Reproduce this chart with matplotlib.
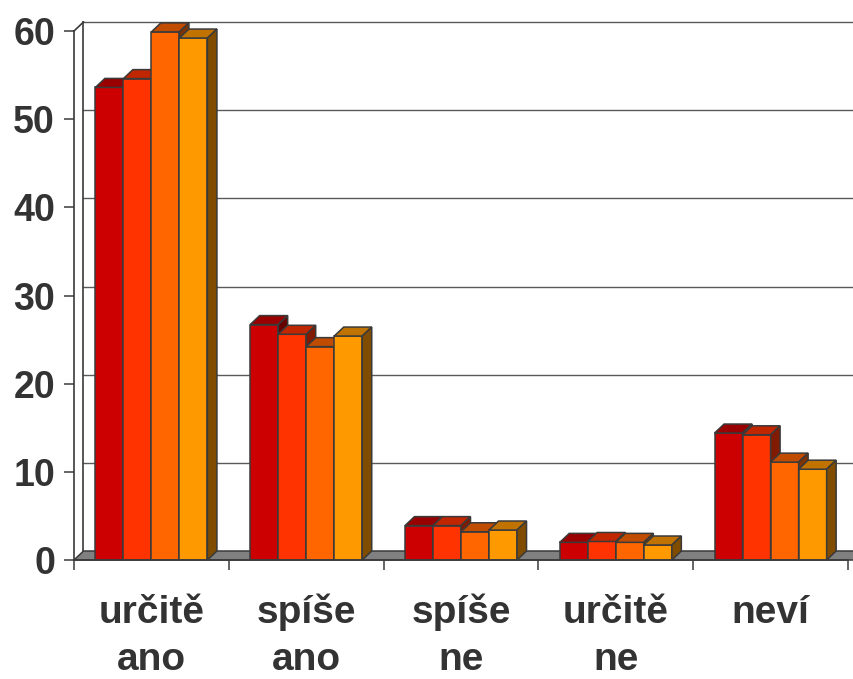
import matplotlib.pyplot as plt
from matplotlib.patches import Polygon

# answers per category, four survey groups
categories = [["určitě", "ano"], ["spíše", "ano"], ["spíše", "ne"], ["určitě", "ne"], ["neví"]]
group_a = [53.6, 26.7, 3.9, 2.0, 14.4]
group_b = [54.6, 25.6, 3.9, 2.1, 14.2]
group_c = [59.9, 24.2, 3.2, 2.0, 11.1]
group_d = [59.2, 25.4, 3.4, 1.7, 10.3]
yticks = [0, 10, 20, 30, 40, 50, 60]

series = [group_a, group_b, group_c, group_d]
front_cols = ["#CC0000", "#FF3300", "#FF6600", "#FF9900"]
top_cols = ["#990000", "#C02600", "#C04C00", "#C07300"]
side_cols = ["#660000", "#801A00", "#803300", "#7F4C00"]
edge = "#3a3a3a"
txt = "#333333"

W, H = 854, 679
fig = plt.figure(figsize=(W / 100, H / 100), dpi=100)
ax = fig.add_axes([74 / W, 119 / H, 774 / W, 529 / H])
ax.set_xlim(0, 5)
ax.set_ylim(0, 60)

# depth of the 3d box in data units (about 9-10 px)
dx = 9.5 / 774 * 5
dy = 9 / 529 * 60

# back wall grid
for v in yticks[1:]:
    ax.plot([dx, 5 + dx + 0.1], [v + dy, v + dy], color="#5a5a5a", lw=1,
            zorder=1, clip_on=False)
ax.plot([dx, dx], [dy, 60 + dy], color=edge, lw=1.2, zorder=1, clip_on=False)
ax.plot([0, dx], [60, 60 + dy], color=edge, lw=1.2, zorder=1, clip_on=False)

# floor
ax.add_patch(Polygon([[0, 0], [dx, dy], [5 + dx + 0.1, dy], [5 + 0.1, 0]],
                     closed=True, facecolor="#808080", edgecolor=edge, lw=1.1,
                     zorder=2, clip_on=False))

bw = 0.181
start = 0.138
for j, vals in enumerate(series):
    lefts = [i + start + j * bw for i in range(len(vals))]
    ax.bar(lefts, vals, width=bw, align="edge", color=front_cols[j],
           edgecolor=edge, lw=1.1, zorder=3 + 2 * j)
    for x0, v in zip(lefts, vals):
        top = [[x0, v], [x0 + dx, v + dy], [x0 + bw + dx, v + dy], [x0 + bw, v]]
        side = [[x0 + bw, 0], [x0 + bw, v], [x0 + bw + dx, v + dy], [x0 + bw + dx, dy]]
        ax.add_patch(Polygon(top, closed=True, facecolor=top_cols[j],
                             edgecolor=edge, lw=1.1, zorder=4 + 2 * j, clip_on=False))
        ax.add_patch(Polygon(side, closed=True, facecolor=side_cols[j],
                             edgecolor=edge, lw=1.1, zorder=4 + 2 * j, clip_on=False))

for s in ["top", "right"]:
    ax.spines[s].set_visible(False)
for s in ["left", "bottom"]:
    ax.spines[s].set_color(edge)
    ax.spines[s].set_linewidth(1.2)
    ax.spines[s].set_zorder(20)

ax.set_yticks(yticks)
ax.set_yticklabels([str(v) for v in yticks], fontsize=27, fontweight="bold",
                   color=txt, family="Liberation Sans")
ax.set_xticks(range(6))
ax.set_xticklabels([])
ax.tick_params(axis="both", direction="out", length=7.2, width=1.1, color=edge)
ax.tick_params(axis="y", pad=6.5)

trans = ax.get_xaxis_transform()
for i, lines in enumerate(categories):
    for k, line in enumerate(lines):
        ax.text(i + 0.5, [-0.1200, -0.2080][k], line, transform=trans,
                ha="center", va="baseline", fontsize=28, fontweight="bold",
                color=txt, family="Liberation Sans")

fig.savefig("out.png", dpi=100)
